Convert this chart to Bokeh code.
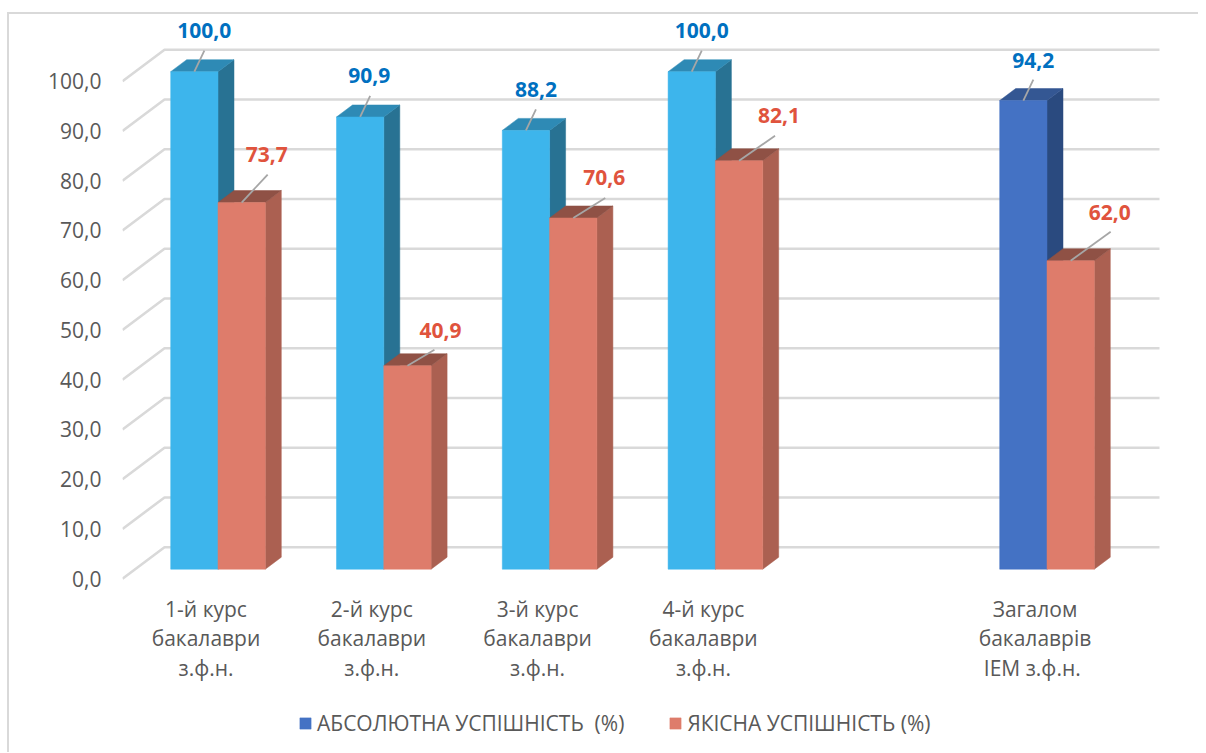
from bokeh.plotting import figure
from bokeh.embed import file_html
from bokeh.resources import INLINE
from bokeh.core.properties import value
from bokeh.models import (Range1d, LinearAxis, FixedTicker, ColumnDataSource, Legend, LegendItem)

# ---- data ----
categories = ["1-й курс\nбакалаври\nз.ф.н.", "2-й курс\nбакалаври\nз.ф.н.", "3-й курс\nбакалаври\nз.ф.н.",
              "4-й курс\nбакалаври\nз.ф.н.", "Загалом\nбакалаврів\nІЕМ  з.ф.н."]
positions = [1, 2, 3, 4, 6]
absolute = [100.0, 90.9, 88.2, 100.0, 94.2]
quality = [73.7, 40.9, 70.6, 82.1, 62.0]
y_ticks = [0, 10, 20, 30, 40, 50, 60, 70, 80, 90, 100]
y_tick_labels = ["0,0", "10,0", "20,0", "30,0", "40,0", "50,0", "60,0", "70,0", "80,0", "90,0", "100,0"]
series_names = ["АБСОЛЮТНА УСПІШНІСТЬ  (%)", "ЯКІСНА УСПІШНІСТЬ (%)"]

# ---- leader line ends / label positions relative to the bar-top centre, in px ----
abs_leader = [(10, 21), (10, 21), (10, 21), (10, 21), (10, 21)]
abs_label = [(10, 40), (9, 40), (10, 40), (10, 40), (10, 39)]
qual_leader = [(26, 28), (27, 16), (32, 20), (36, 25), (40, 29)]
qual_label = [(25, 47), (33, 34), (31, 39), (40, 44), (39, 47)]

# ---- scale: px per data unit ----
PX_X = 165.8
PX_Y = 4.975
M_L, M_T = 7, 12        # page offset of the chart-area border
F_L, F_T = 113, 0
FRAME_W, FRAME_H = 1076, 738
frame_left_px, frame_right_px = 122, 122 + FRAME_W
frame_top_px, frame_bottom_px = 14, 14 + FRAME_H

ORIGIN_X = 217.5
ORIGIN_Y = 568.7
dx = lambda px: px / PX_X
dy = lambda px: px / PX_Y

x_range = Range1d(1 + (frame_left_px - ORIGIN_X) / PX_X, 1 + (frame_right_px - ORIGIN_X) / PX_X)
y_range = Range1d((ORIGIN_Y - frame_bottom_px) / PX_Y, (ORIGIN_Y - frame_top_px) / PX_Y)

p = figure(frame_width=FRAME_W, frame_height=FRAME_H, x_range=x_range, y_range=y_range,
           output_backend="svg", toolbar_location=None,
           x_axis_location=None, y_axis_location=None,
           min_border_left=F_L, min_border_top=F_T, min_border_right=0, min_border_bottom=0,
           outline_line_color=None, margin=(M_T, 0, 0, M_L))
p.grid.visible = False
p.styles = {"border-top": "2px solid #D9D9D9", "border-left": "2px solid #D9D9D9"}

FONT = "Open Sans"
# the value labels belong to the front plane of the 3-D box
p.extra_y_ranges["ticks"] = Range1d(y_range.start + dy(9.5), y_range.end + dy(9.5))

yax = LinearAxis(y_range_name="ticks", ticker=FixedTicker(ticks=y_ticks),
                 major_label_overrides=dict(zip(y_ticks, y_tick_labels)),
                 axis_line_color=None, major_tick_line_color=None, minor_tick_line_color=None,
                 major_label_text_color="#595959", major_label_text_font=FONT,
                 major_label_text_font_size="21px", major_label_standoff=15)
p.add_layout(yax, "left")

# category labels
p.text([x - dx(12) for x in positions], [-dy(638 - ORIGIN_Y)] * len(positions), text=categories,
       text_color="#595959", text_font=value(FONT), text_font_size="21px", text_line_height=1.05,
       text_align="center", text_baseline="middle")

WALL_X0 = 1 + (122 - ORIGIN_X) / PX_X
WALL_X1 = 1 + (164 - ORIGIN_X) / PX_X
WALL_X2 = 1 + (1159 - ORIGIN_X) / PX_X
p.multi_line([[WALL_X0, WALL_X1, WALL_X2] for t in y_ticks],
             [[t - dy(9.5), t + dy(22), t + dy(22)] for t in y_ticks],
             line_color="#D9D9D9", line_width=2.6)

BAR_W = 47.3 / PX_X
DEPTH_X = dx(16)
DEPTH_Y = dy(12)


def draw_bars(xs, vals, colors, tops, sides):
    side_x = [[x + BAR_W / 2, x + BAR_W / 2 + DEPTH_X, x + BAR_W / 2 + DEPTH_X, x + BAR_W / 2] for x in xs]
    side_y = [[0, DEPTH_Y, v + DEPTH_Y, v] for v in vals]
    p.patches(side_x, side_y, fill_color=sides, line_color=sides, line_width=0.5)
    top_x = [[x - BAR_W / 2, x + BAR_W / 2, x + BAR_W / 2 + DEPTH_X, x - BAR_W / 2 + DEPTH_X] for x in xs]
    top_y = [[v, v, v + DEPTH_Y, v + DEPTH_Y] for v in vals]
    p.patches(top_x, top_y, fill_color=tops, line_color=tops, line_width=0.5)
    return p.vbar(x=xs, width=BAR_W, top=vals, bottom=0, fill_color=colors, line_color=colors, line_width=0.5)


abs_x = [x - BAR_W / 2 for x in positions]
qual_x = [x + BAR_W / 2 for x in positions]
r_abs = draw_bars(abs_x, absolute,
                  ["#3DB5EC"] * 4 + ["#4472C4"],
                  ["#2E8AB5"] * 4 + ["#345793"],
                  ["#287293"] * 4 + ["#2A4A7F"])
r_qual = draw_bars(qual_x, quality, ["#DE7C6B"] * 5, ["#8F5145"] * 5, ["#AB6051"] * 5)


def draw_labels(xs, vals, leader, label, color):
    p.segment(xs, vals, [x + dx(l[0]) for x, l in zip(xs, leader)], [v + dy(l[1]) for v, l in zip(vals, leader)],
              line_color="#A6A6A6", line_width=1.8)
    src = ColumnDataSource(dict(x=[x + dx(l[0]) for x, l in zip(xs, label)],
                                y=[v + dy(l[1]) for v, l in zip(vals, label)],
                                t=[f"{v:.1f}".replace(".", ",") for v in vals]))
    p.text("x", "y", text="t", source=src, text_color=color, text_font=value(FONT), text_font_style="bold",
           text_font_size="21px", text_align="center", text_baseline="middle", y_offset=-1)


draw_labels(abs_x, absolute, abs_leader, abs_label, "#0070C0")
draw_labels(qual_x, quality, qual_leader, qual_label, "#E0533D")

legend = Legend(items=[LegendItem(label=series_names[0], renderers=[r_abs], index=4),
                       LegendItem(label=series_names[1], renderers=[r_qual], index=0)],
                orientation="horizontal", location=(176, 15), border_line_color=None, background_fill_alpha=0,
                label_text_font=FONT, label_text_font_size="21px", label_text_color="#595959",
                glyph_width=14, glyph_height=14, spacing=44, margin=0, padding=0, label_standoff=5)
p.add_layout(legend)

open("out.html", "w").write(file_html(p, INLINE))
